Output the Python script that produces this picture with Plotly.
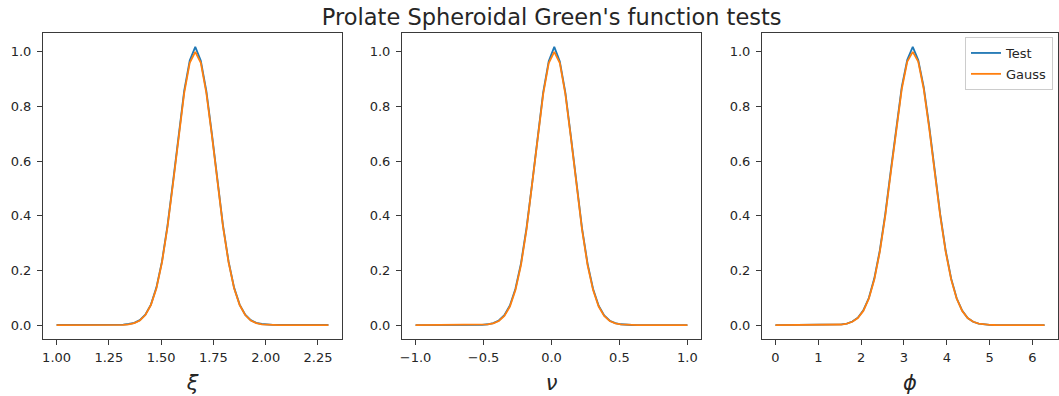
import plotly.graph_objects as go

# ---- data (50 samples per panel, evenly spaced) ----
xi_start, xi_step = 1.0, 1.3 / 49
nu_start, nu_step = -1.0, 2.0 / 49
phi_start, phi_step = 0.0, 6.2832 / 49

xi_gauss = [0, 0, 0, 0, 0, 0, 0, 0, 0, 0,
            0.0001, 0.0003, 0.001, 0.0028, 0.0072, 0.0169, 0.0367, 0.0734, 0.135, 0.230,
            0.360, 0.520, 0.693, 0.849, 0.960, 1.0, 0.960, 0.849, 0.693, 0.520,
            0.360, 0.230, 0.135, 0.0734, 0.0367, 0.0169, 0.0072, 0.0028, 0.001, 0.0003,
            0.0001, 0, 0, 0, 0, 0, 0, 0, 0, 0]
xi_test = [0.001, 0.001, 0.001, 0.001, 0.001, 0.001, 0.001, 0.002, 0.002, 0.001,
           0.001, 0.001, 0.002, 0.004, 0.008, 0.018, 0.038, 0.075, 0.138, 0.233,
           0.365, 0.526, 0.700, 0.857, 0.968, 1.018, 0.967, 0.856, 0.699, 0.525,
           0.364, 0.233, 0.137, 0.075, 0.038, 0.018, 0.008, 0.004, 0.002, 0.001,
           0.001, 0.001, 0.001, 0.001, 0.001, 0.001, 0.001, 0.001, 0.001, 0.001]

nu_gauss = [0, 0, 0, 0, 0, 0, 0, 0, 0, 0,
            0, 0.0003, 0.0008, 0.0024, 0.0062, 0.015, 0.0333, 0.0679, 0.128, 0.220,
            0.350, 0.511, 0.685, 0.845, 0.959, 1.0, 0.959, 0.845, 0.685, 0.511,
            0.350, 0.220, 0.128, 0.0679, 0.0333, 0.015, 0.0062, 0.0024, 0.0008, 0.0003,
            0, 0, 0, 0, 0, 0, 0, 0, 0, 0]
nu_test = [0, 0, 0, 0, 0, 0, 0, 0, 0, 0,
           0, 0.0004, 0.001, 0.003, 0.007, 0.017, 0.036, 0.072, 0.133, 0.226,
           0.356, 0.517, 0.691, 0.852, 0.966, 1.018, 0.965, 0.851, 0.690, 0.516,
           0.355, 0.225, 0.132, 0.071, 0.035, 0.016, 0.007, 0.003, 0.001, 0.0004,
           0, 0, 0, 0, 0, 0, 0, 0, 0, 0]

phi_gauss = [0, 0, 0, 0, 0, 0, 0, 0, 0, 0,
             0.0003, 0.0008, 0.0021, 0.0052, 0.012, 0.0259, 0.0519, 0.0966, 0.167, 0.268,
             0.401, 0.558, 0.720, 0.864, 0.964, 1.0, 0.964, 0.864, 0.720, 0.558,
             0.401, 0.268, 0.167, 0.0966, 0.0519, 0.0259, 0.012, 0.0052, 0.0021, 0.0008,
             0.0003, 0, 0, 0, 0, 0, 0, 0, 0, 0]
phi_test = [0, 0, 0, 0, 0, 0, 0, 0, 0, 0,
            0.0003, 0.0009, 0.0023, 0.0056, 0.013, 0.027, 0.054, 0.099, 0.171, 0.273,
            0.407, 0.565, 0.728, 0.872, 0.971, 1.018, 0.970, 0.871, 0.727, 0.564,
            0.406, 0.272, 0.170, 0.098, 0.053, 0.026, 0.012, 0.0054, 0.0022, 0.0008,
            0.0003, 0, 0, 0, 0, 0, 0, 0, 0, 0]

panels = [
    (xi_start, xi_step, xi_test, xi_gauss, "ξ", [0.935, 2.365], [1.0, 1.25, 1.5, 1.75, 2.0, 2.25], ".2f"),
    (nu_start, nu_step, nu_test, nu_gauss, "ν", [-1.1, 1.1], [-1.0, -0.5, 0.0, 0.5, 1.0], ".1f"),
    (phi_start, phi_step, phi_test, phi_gauss, "ϕ", [-0.314, 6.597], [0, 1, 2, 3, 4, 5, 6], "d"),
]
y_ticks = [0.0, 0.2, 0.4, 0.6, 0.8, 1.0]

BLUE = "#1f77b4"
ORANGE = "#ff7f0e"

W, H = 1059, 396
ML, MR, MT, MB = 43, 1, 33, 57
pw = W - ML - MR
domains = [[0.0, (342 - ML) / pw], [(402 - ML) / pw, (701 - ML) / pw], [(762 - ML) / pw, 1.0]]

fig = go.Figure()
font_tick = dict(family="DejaVu Sans", size=13, color="#262626")
axis_line = "#3a3a3a"

for i, (x0, dx, test, gauss, label, xr, xt, fmt) in enumerate(panels):
    n = "" if i == 0 else str(i + 1)
    fig.add_trace(go.Scatter(x0=x0, dx=dx, y=test, mode="lines", name="Test",
                             line=dict(color=BLUE, width=1.8), showlegend=(i == 2),
                             legendgroup="t", xaxis="x" + n, yaxis="y" + n))
    fig.add_trace(go.Scatter(x0=x0, dx=dx, y=gauss, mode="lines", name="Gauss",
                             line=dict(color=ORANGE, width=1.8), showlegend=(i == 2),
                             legendgroup="g", xaxis="x" + n, yaxis="y" + n))
    fig.layout["xaxis" + n] = dict(
        domain=domains[i], range=xr, anchor="y" + n, tickvals=xt, tickformat=fmt,
        showline=True, mirror=True, linecolor=axis_line, linewidth=1,
        ticks="outside", ticklen=5, tickcolor=axis_line, tickwidth=1,
        ticklabelstandoff=1,
        showgrid=False, zeroline=False, tickfont=font_tick,
        title=dict(text="<i>" + label + "</i>", font=dict(family="DejaVu Sans", size=21, color="#262626"), standoff=11),
    )
    fig.layout["yaxis" + n] = dict(
        domain=[0, 1], range=[-0.0509, 1.0689], anchor="x" + n, tickvals=y_ticks, tickformat=".1f",
        showline=True, mirror=True, linecolor=axis_line, linewidth=1,
        ticks="outside", ticklen=5, tickcolor=axis_line, tickwidth=1,
        ticklabelstandoff=3,
        showgrid=False, zeroline=False, tickfont=font_tick,
    )

fig.update_layout(
    width=W, height=H,
    margin=dict(l=ML, r=MR, t=MT, b=MB),
    paper_bgcolor="white", plot_bgcolor="white",
    title=dict(text="Prolate Spheroidal Green's function tests", x=551.7 / W,
               xanchor="center", xref="container", y=1 - 17.5 / H, yanchor="middle", yref="container",
               font=dict(family="DejaVu Sans", size=22.5, color="#262626")),
    legend=dict(x=(1053 - ML) / pw, xanchor="right", y=(H - MB - 37) / (H - MT - MB), yanchor="top",
                bgcolor="rgba(255,255,255,0.8)", bordercolor="#cccccc", borderwidth=1,
                font=dict(family="DejaVu Sans", size=13, color="#262626"),
                tracegroupgap=1, itemwidth=30),
    showlegend=True,
)

fig.write_html("out.html")
